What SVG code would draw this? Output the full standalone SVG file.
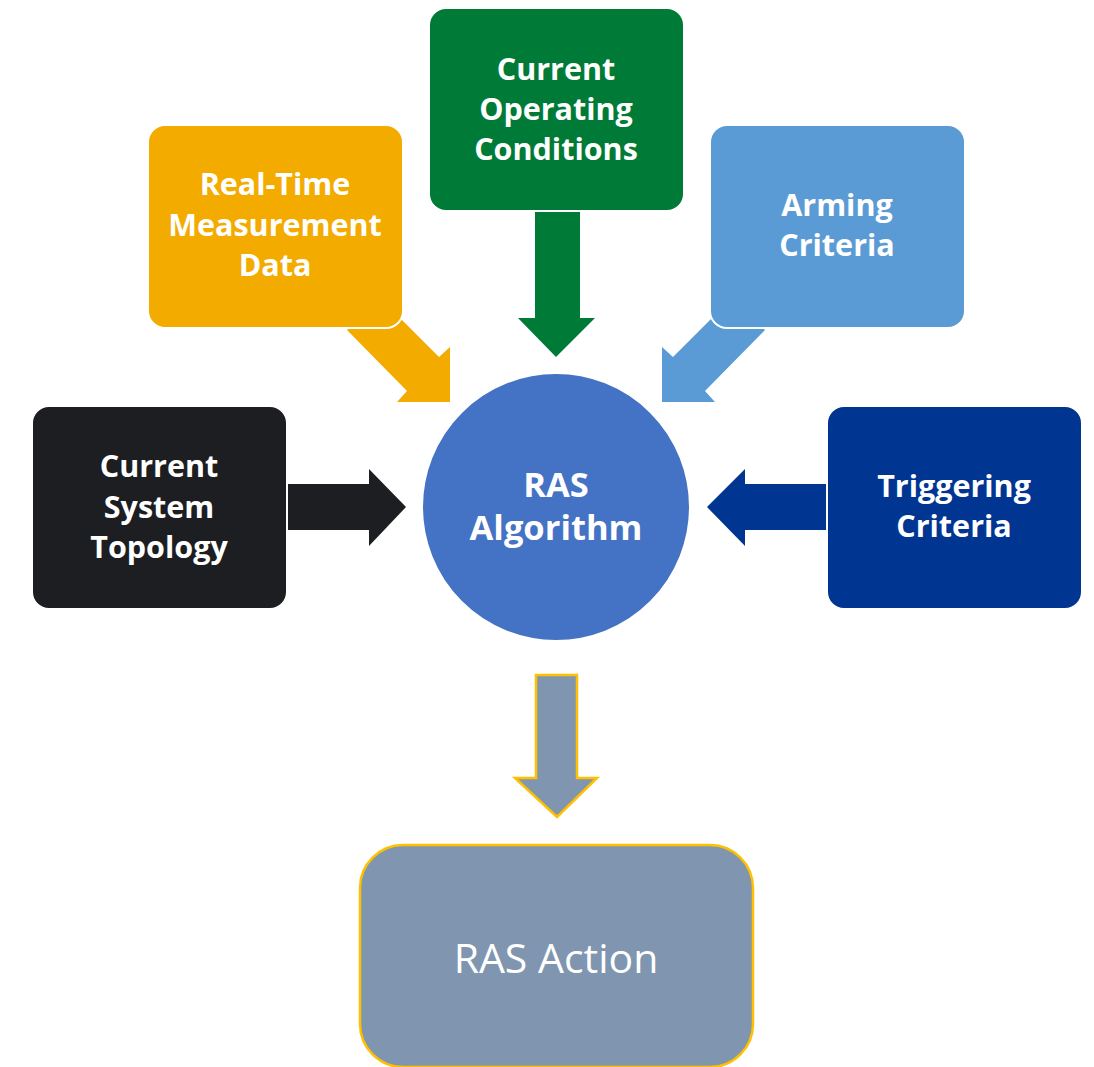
<svg xmlns="http://www.w3.org/2000/svg" width="1094" height="1067" viewBox="0 0 1094 1067">
<style>
.box{stroke:#ffffff;stroke-width:2}
.t{font-family:"Open Sans","Liberation Sans",sans-serif;font-weight:700;font-size:30.5px;fill:#ffffff;text-anchor:middle}
.tc{font-family:"Open Sans","Liberation Sans",sans-serif;font-weight:700;font-size:34.5px;fill:#ffffff;text-anchor:middle}
.ta{font-family:"Open Sans","Liberation Sans",sans-serif;font-weight:400;font-size:41px;fill:#ffffff;text-anchor:middle}
</style>
<rect width="1094" height="1067" fill="#ffffff"/>
<g id="connectors">
<polygon points="379.5,297.5 439,357 450,347 450,402 397,402 407,391 347,330" fill="#F4AB00"/>
<polygon points="732.5,297.5 673,357 662,347 662,402 715,402 705,391 765,330" fill="#5B9BD5"/>
<polygon points="535,200 580,200 580,318 595,318 556,357 518,318 535,318" fill="#007A37"/>
<polygon points="280,484 369,484 369,469 406,507 369,546 369,530 280,530" fill="#1C1E21"/>
<polygon points="832,484 745,484 745,469 707,507 745,546 745,530 832,530" fill="#003591"/>
<polygon points="536,675 577,675 577,778 597,778 557,817 515,778 536,778" fill="#8096B0" stroke="#FFC000" stroke-width="2.5" stroke-linejoin="miter"/>
</g>
<g id="node-realtime">
<rect class="box" x="148" y="125" width="255" height="203" rx="17" fill="#F4AB00"/>
<text class="t" x="275" y="195">Real-Time</text>
<text class="t" x="275" y="236">Measurement</text>
<text class="t" x="275" y="276">Data</text>
</g>
<g id="node-operating">
<rect class="box" x="429" y="8" width="255" height="203" rx="17" fill="#007A37"/>
<text class="t" x="556" y="80">Current</text>
<text class="t" x="556" y="120">Operating</text>
<text class="t" x="556" y="160">Conditions</text>
</g>
<g id="node-arming">
<rect class="box" x="710" y="125" width="255" height="203" rx="17" fill="#5B9BD5"/>
<text class="t" x="837" y="216">Arming</text>
<text class="t" x="837" y="256">Criteria</text>
</g>
<g id="node-topology">
<rect class="box" x="32" y="406" width="255" height="203" rx="17" fill="#1C1E21"/>
<text class="t" x="159" y="477">Current</text>
<text class="t" x="159" y="518">System</text>
<text class="t" x="159" y="558">Topology</text>
</g>
<g id="node-triggering">
<rect class="box" x="827" y="406" width="255" height="203" rx="17" fill="#003591"/>
<text class="t" x="954" y="497">Triggering</text>
<text class="t" x="954" y="537">Criteria</text>
</g>
<g id="node-algorithm">
<circle cx="556" cy="507" r="134" fill="#4472C4" stroke="#ffffff" stroke-width="2"/>
<text class="tc" x="556" y="497">RAS</text>
<text class="tc" x="556" y="540">Algorithm</text>
</g>
<g id="node-action">
<rect x="360" y="845" width="393" height="222" rx="43" fill="#8096B0" stroke="#FFC000" stroke-width="2.5"/>
<text class="ta" x="556" y="973">RAS Action</text>
</g>
</svg>
